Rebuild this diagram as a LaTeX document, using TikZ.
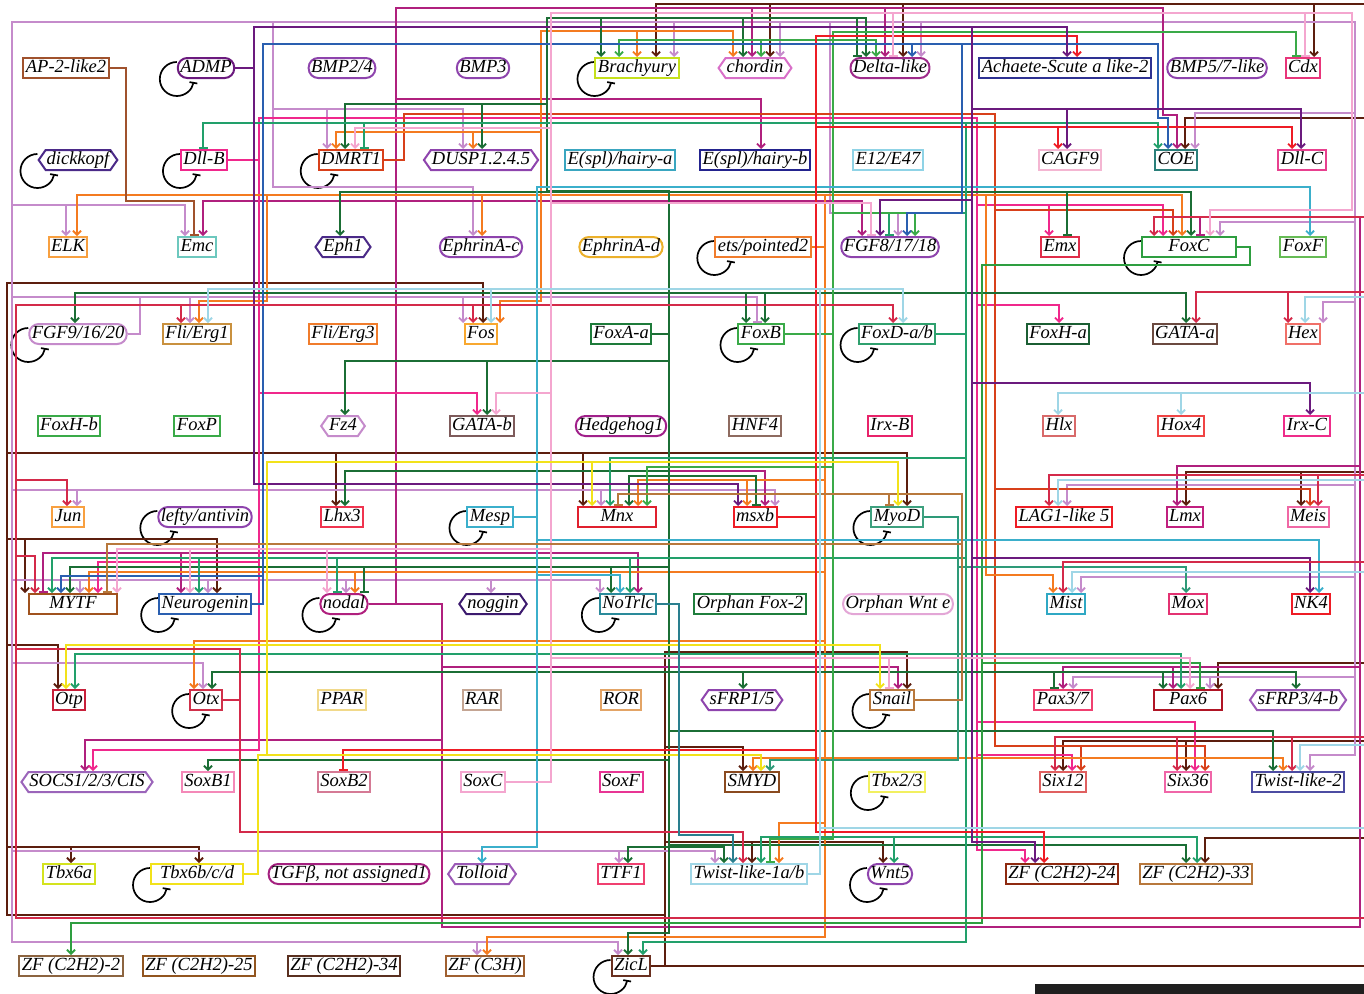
\documentclass[tikz,border=0pt]{standalone}
\usepackage{fontspec}
\setmainfont{Liberation Serif}
\usetikzlibrary{arrows.meta,shapes.symbols,calc}
\pgfdeclarelayer{bg}
\pgfsetlayers{bg,main}
\newcommand\dc[2]{\definecolor{#1}{HTML}{#2}}
% edge colours
\dc{zbr}{5C1E0E}\dc{lav}{C58BCB}\dc{mag}{B0207E}\dc{pk}{F0288C}\dc{dm}{D8401A}
\dc{orn}{F47B20}\dc{dg}{1B6E35}\dc{tg}{22A06B}\dc{gr}{3AAA48}\dc{fc}{2E9E40}
\dc{tm}{2E9A78}\dc{mb}{3BAFCB}\dc{rd}{EE1C25}\dc{bl}{2A5FB0}\dc{pp}{6B1A7E}
\dc{cr}{D42A4A}\dc{lp}{F4A6CF}\dc{tn}{B8783C}\dc{lb}{9FD6E6}\dc{yl}{F2E21A}
\dc{nt}{2A7F8F}\dc{sie}{A0522D}
% node colours
\dc{cpur}{8E44AD}\dc{cdpur}{4B2A88}\dc{cbra}{C5E01B}\dc{cchd}{D86FC8}\dc{cdll}{9E2A8A}
\dc{cash}{2E3192}\dc{ccdx}{E8357A}\dc{cehA}{3AA6C0}\dc{cehB}{23238E}\dc{ce12}{8FD3E6}
\dc{ccagf}{F4B6D2}\dc{ccoe}{2A7F7A}\dc{cdllc}{E8408F}\dc{celk}{F8A040}\dc{cemc}{6DC8BE}
\dc{cefnd}{EBB02B}\dc{cets}{F07C2C}\dc{cemx}{E02D4A}\dc{cfoxf}{66BB55}\dc{cfli1}{C9913F}
\dc{cfos}{F8A830}\dc{cfoxaa}{1E7B3A}\dc{cfoxd}{2FA06E}\dc{cfoxha}{1B5E33}\dc{cgataa}{6B4A40}
\dc{chex}{F07068}\dc{cgatab}{7E5B5B}\dc{chh}{A0208A}\dc{chnf}{8E6B60}\dc{cirxb}{E8236A}
\dc{chlx}{D86A6A}\dc{chox}{F04444}\dc{cirxc}{EE2D8A}\dc{clhx}{F0344F}\dc{cmnx}{E0202E}
\dc{cmyod}{3DA07E}\dc{clmx}{C0207F}\dc{cmeis}{F068A5}\dc{cmytf}{A0521E}\dc{cnog}{3C1A6E}
\dc{cnot}{2A8A9A}\dc{cofox}{1F7E3C}\dc{cown}{E3A6D6}\dc{cmist}{2FA8C4}\dc{cmox}{E33272}
\dc{cotp}{C8203A}\dc{cotx}{D0304A}\dc{cppar}{F1D98A}\dc{crar}{C4A593}\dc{cror}{E3A466}
\dc{cpax37}{F04070}\dc{cpax6}{B01525}\dc{csf34}{9B59B6}\dc{csocs}{9B65BA}\dc{csxb1}{F489B8}
\dc{csxb2}{D57A95}\dc{csxf}{E83594}\dc{csmyd}{8A4A1F}\dc{ctbx23}{F2F060}\dc{csix12}{E06060}
\dc{csix36}{F066A8}\dc{ctw2}{4C4CA2}\dc{ctbx6a}{D4E31E}\dc{ctgf}{A4207F}\dc{czf24}{8E2A10}
\dc{czf2}{8C6440}\dc{czf25}{92551F}\dc{czf34}{5A3020}\dc{czfc}{A06030}\dc{czicl}{6A3020}
\newcommand\nfnt{\fontsize{18.5}{19}\selectfont\itshape}
\newcommand\gedge[5]{\draw[#1] (#2.east) #3 -| (#4,0 |- #5.north);}
\newcommand\sloop[1]{\draw[sl] ($(#1.west)+(0,-6)$) arc[start angle=-90,end angle=-350,radius=17];}
\begin{document}
\begin{tikzpicture}[x=1pt,y=-1pt,
 lbl/.style={font=\nfnt, inner xsep=2.5pt, inner ysep=0pt, minimum height=20pt, line width=2pt, text height=13pt, text depth=3.5pt, fill=white},
 bx/.style={lbl, rectangle, draw=#1},
 st/.style={lbl, rectangle, rounded corners=9.5pt, draw=#1},
 hx/.style={lbl, signal, signal to=west and east, signal pointer angle=110, inner xsep=1pt, draw=#1},
 ea/.style={line width=1.8pt, -{Straight Barb[length=4pt,width=8pt]}},
 ei/.style={line width=1.8pt, -{Bar[width=9pt]}},
 sl/.style={black, line width=1.7pt, -{Bar[width=8pt]}}]
\useasboundingbox (0,0) rectangle (1364,993);
% ---------------- nodes
% row 1
\node[bx=sie] (ap) at (66,68) {AP-2-like2};
\node[st=pp] (admp) at (206,68) {ADMP};
\node[st=cpur] (bmp24) at (342,68) {BMP2/4};
\node[st=cpur] (bmp3) at (483,68) {BMP3};
\node[bx=cbra] (bra) at (637,68) {Brachyury};
\node[hx=cchd] (chd) at (755,68) {chordin};
\node[st=cdll] (dll) at (890,68) {Delta-like};
\node[bx=cash] (ash) at (1065,68) {Achaete-Scute a like-2};
\node[st=cpur] (bmp57) at (1217,68) {BMP5/7-like};
\node[bx=ccdx] (cdx) at (1303,68) {Cdx};
% row 2
\node[hx=cdpur] (dkk) at (78,160) {dickkopf};
\node[bx=pk] (dllb) at (204,160) {Dll-B};
\node[bx=dm] (dmrt) at (351,160) {DMRT1};
\node[hx=cpur] (dusp) at (481,160) {DUSP1.2.4.5};
\node[bx=cehA] (ehA) at (620,160) {E(spl)/hairy-a};
\node[bx=cehB] (ehB) at (755,160) {E(spl)/hairy-b};
\node[bx=ce12] (e12) at (888,160) {E12/E47};
\node[bx=ccagf] (cagf) at (1070,160) {CAGF9};
\node[bx=ccoe] (coe) at (1176,160) {COE};
\node[bx=cdllc] (dllc) at (1302,160) {Dll-C};
% row 3
\node[bx=celk] (elk) at (68,247) {ELK};
\node[bx=cemc] (emc) at (197,247) {Emc};
\node[hx=cdpur] (eph1) at (343,247) {Eph1};
\node[st=cpur] (efnc) at (481,247) {EphrinA-c};
\node[st=cefnd] (efnd) at (621,247) {EphrinA-d};
\node[bx=cets] (ets) at (763,247) {ets/pointed2};
\node[st=cpur] (fgf8) at (890,247) {FGF8/17/18};
\node[bx=cemx] (emx) at (1060,247) {Emx};
\node[bx=fc, minimum width=94pt] (foxc) at (1189,247) {FoxC};
\node[bx=cfoxf] (foxf) at (1303,247) {FoxF};
% row 4
\node[st=lav] (fgf9) at (78,334) {FGF9/16/20};
\node[bx=cfli1] (fli1) at (197,334) {Fli/Erg1};
\node[bx=cets] (fli3) at (343,334) {Fli/Erg3};
\node[bx=cfos] (fos) at (481,334) {Fos};
\node[bx=cfoxaa] (foxaa) at (621,334) {FoxA-a};
\node[bx=gr] (foxb) at (761,334) {FoxB};
\node[bx=cfoxd] (foxd) at (897,334) {FoxD-a/b};
\node[bx=cfoxha] (foxha) at (1058,334) {FoxH-a};
\node[bx=cgataa] (gataa) at (1185,334) {GATA-a};
\node[bx=chex] (hex) at (1303,334) {Hex};
% row 5
\node[bx=gr] (foxhb) at (69,426) {FoxH-b};
\node[bx=gr] (foxp) at (197,426) {FoxP};
\node[hx=lav] (fz4) at (343,426) {Fz4};
\node[bx=cgatab] (gatab) at (482,426) {GATA-b};
\node[st=chh] (hh) at (621,426) {Hedgehog1};
\node[bx=chnf] (hnf4) at (755,426) {HNF4};
\node[bx=cirxb] (irxb) at (890,426) {Irx-B};
\node[bx=chlx] (hlx) at (1059,426) {Hlx};
\node[bx=chox] (hox4) at (1181,426) {Hox4};
\node[bx=cirxc] (irxc) at (1307,426) {Irx-C};
% row 6
\node[bx=celk] (jun) at (68,517) {Jun};
\node[st=cpur] (lefty) at (205,517) {lefty/antivin};
\node[bx=clhx] (lhx3) at (342,517) {Lhx3};
\node[bx=mb] (mesp) at (490,517) {Mesp};
\node[bx=cmnx, minimum width=78pt] (mnx) at (617,517) {Mnx};
\node[bx=rd] (msxb) at (755,517) {msxb};
\node[bx=cmyod] (myod) at (897,517) {MyoD};
\node[bx=rd] (lag) at (1064,517) {LAG1-like 5};
\node[bx=clmx] (lmx) at (1185,517) {Lmx};
\node[bx=cmeis] (meis) at (1308,517) {Meis};
% row 7
\node[bx=cmytf, minimum width=88pt] (mytf) at (73,604) {MYTF};
\node[bx=bl] (ngn) at (205,604) {Neurogenin};
\node[st=mag] (nodal) at (344,604) {nodal};
\node[hx=cnog] (noggin) at (493,604) {noggin};
\node[bx=cnot] (notrlc) at (628,604) {NoTrlc};
\node[bx=cofox] (ofox2) at (750,604) {Orphan Fox-2};
\node[st=cown] (ownte) at (898,604) {Orphan Wnt e};
\node[bx=cmist] (mist) at (1066,604) {Mist};
\node[bx=cmox] (mox) at (1188,604) {Mox};
\node[bx=rd] (nk4) at (1311,604) {NK4};
% row 8
\node[bx=cotp] (otp) at (69,700) {Otp};
\node[bx=cotx] (otx) at (206,700) {Otx};
\node[bx=cppar] (ppar) at (342,700) {PPAR};
\node[bx=crar] (rar) at (482,700) {RAR};
\node[bx=cror] (ror) at (621,700) {ROR};
\node[hx=cpur] (sfrp15) at (742,700) {sFRP1/5};
\node[bx=tn] (snail) at (892,700) {Snail};
\node[bx=cpax37] (pax37) at (1063,700) {Pax3/7};
\node[bx=cpax6, minimum width=68pt] (pax6) at (1188,700) {Pax6};
\node[hx=csf34] (sfrp34) at (1298,700) {sFRP3/4-b};
% row 9
\node[hx=csocs] (socs) at (87,782) {SOCS1/2/3/CIS};
\node[bx=csxb1] (soxb1) at (208,782) {SoxB1};
\node[bx=csxb2] (soxb2) at (344,782) {SoxB2};
\node[bx=lp] (soxc) at (483,782) {SoxC};
\node[bx=csxf] (soxf) at (621,782) {SoxF};
\node[bx=csmyd] (smyd) at (752,782) {SMYD};
\node[bx=ctbx23] (tbx23) at (897,782) {Tbx2/3};
\node[bx=csix12] (six12) at (1063,782) {Six12};
\node[bx=csix36] (six36) at (1188,782) {Six36};
\node[bx=ctw2] (tw2) at (1298,782) {Twist-like-2};
% row 10
\node[bx=ctbx6a] (tbx6a) at (69,874) {Tbx6a};
\node[bx=yl, minimum width=92pt] (tbx6b) at (197,874) {Tbx6b/c/d};
\node[st=ctgf] (tgfb) at (349,874) {TGFβ, not assigned1};
\node[hx=csf34] (tolloid) at (482,874) {Tolloid};
\node[bx=cpax37] (ttf1) at (621,874) {TTF1};
\node[bx=lb] (tw1) at (749,874) {Twist-like-1a/b};
\node[st=cpur] (wnt5) at (890,874) {Wnt5};
\node[bx=czf24] (zf24) at (1062,874) {ZF (C2H2)-24};
\node[bx=tn] (zf33) at (1196,874) {ZF (C2H2)-33};
% row 11
\node[bx=czf2] (zf2) at (71,966) {ZF (C2H2)-2};
\node[bx=czf25] (zf25) at (199,966) {ZF (C2H2)-25};
\node[bx=czf34] (zf34) at (344,966) {ZF (C2H2)-34};
\node[bx=czfc] (zfc3h) at (485,966) {ZF (C3H)};
\node[bx=czicl] (zicl) at (631,966) {ZicL};
\fill[black!88] (1035,984) rectangle (1372,1000);
% ---------------- connectors
\begin{pgfonlayer}{bg}
\foreach \n in {admp,bra,dkk,dllb,dmrt,ets,foxc,fgf9,foxb,foxd,lefty,mesp,myod,ngn,nodal,notrlc,otx,snail,tbx23,tbx6b,wnt5,zicl}{\sloop{\n}}
% ZicL
\gedge{ea,zbr}{zicl}{-| (1372,4)}{656}{bra}
\gedge{ea,zbr}{zicl}{-| (1372,4)}{770}{chd}
\gedge{ea,zbr}{zicl}{-| (1372,4)}{903}{dll}
\gedge{ea,zbr}{zicl}{-| (1372,4)}{1314}{cdx}
\gedge{ea,zbr}{zicl}{-| (1372,118)}{1185}{coe}
\gedge{ea,zbr}{zicl}{-| (1372,472)}{1186}{lmx}
\gedge{ea,zbr}{zicl}{-| (1372,472)}{1301}{meis}
\gedge{ea,zbr}{zicl}{-| (1372,663)}{1218}{pax6}
\gedge{ea,zbr}{zicl}{-| (1372,741)}{1063}{six12}
\gedge{ea,zbr}{zicl}{-| (1372,741)}{1186}{six36}
\gedge{ea,zbr}{zicl}{-| (1372,838)}{1205}{zf33}
\gedge{ea,zbr}{zicl}{-| (665,747)}{743}{smyd}
\gedge{ea,zbr}{zicl}{-| (665,842)}{752}{tw1}
\gedge{ea,zbr}{zicl}{-| (665,842)}{883}{wnt5}
\gedge{ea,zbr}{zicl}{-| (665,652)}{907}{snail}
\gedge{ea,zbr}{zicl}{-| (665,915) -| (7,283)}{483}{fos}
\gedge{ea,zbr}{zicl}{-| (665,915) -| (7,453)}{336}{lhx3}
\gedge{ea,zbr}{zicl}{-| (665,915) -| (7,453)}{583}{mnx}
\gedge{ea,zbr}{zicl}{-| (665,915) -| (7,453)}{907}{myod}
\gedge{ea,zbr}{zicl}{-| (665,915) -| (7,539)}{25}{mytf}
\gedge{ea,zbr}{zicl}{-| (665,915) -| (7,539)}{217}{ngn}
\gedge{ea,zbr}{zicl}{-| (665,915) -| (7,645)}{58}{otp}
\gedge{ea,zbr}{zicl}{-| (665,915) -| (7,847)}{71}{tbx6a}
\gedge{ea,zbr}{zicl}{-| (665,915) -| (7,847)}{199}{tbx6b}
% FGF9/16/20
\gedge{ea,lav}{fgf9}{-| (140,297)}{190}{fli1}
\gedge{ea,lav}{fgf9}{-| (140,297)}{463}{fos}
\gedge{ei,lav}{fgf9}{-| (140,297)}{757}{foxb}
\gedge{ea,lav}{fgf9}{-| (140,297) -| (12,22)}{674}{bra}
\gedge{ea,lav}{fgf9}{-| (140,297) -| (12,22)}{780}{chd}
\gedge{ea,lav}{fgf9}{-| (140,297) -| (12,22)}{921}{dll}
\gedge{ea,lav}{fgf9}{-| (140,297) -| (12,22) -| (1355,113)}{1195}{coe}
\gedge{ea,lav}{fgf9}{-| (140,297) -| (12,22) -| (1355,222)}{1220}{foxc}
\gedge{ea,lav}{fgf9}{-| (140,297) -| (12,22) -| (1355,302)}{1323}{hex}
\gedge{ea,lav}{fgf9}{-| (140,297) -| (12,22) -| (1355,485)}{1067}{lag}
\gedge{ea,lav}{fgf9}{-| (140,297) -| (12,22) -| (1355,577)}{1081}{mist}
\gedge{ea,lav}{fgf9}{-| (140,297) -| (12,22) -| (1355,677)}{1073}{pax37}
\gedge{ea,lav}{fgf9}{-| (140,297) -| (12,22) -| (1355,677)}{1210}{pax6}
\gedge{ea,lav}{fgf9}{-| (140,297) -| (12,22) -| (1355,755)}{1310}{tw2}
\gedge{ea,lav}{fgf9}{-| (140,297) -| (12,22) -| (273,109)}{327}{dmrt}
\gedge{ea,lav}{fgf9}{-| (140,297) -| (12,22) -| (273,109)}{463}{dusp}
\gedge{ea,lav}{fgf9}{-| (140,297) -| (12,22) -| (273,187)}{473}{efnc}
\gedge{ea,lav}{fgf9}{-| (140,297) -| (12,22) -| (830,213)}{898}{fgf8}
\gedge{ea,lav}{fgf9}{-| (140,297) -| (12,205)}{66}{elk}
\gedge{ea,lav}{fgf9}{-| (140,297) -| (12,205)}{185}{emc}
\gedge{ea,lav}{fgf9}{-| (140,297) -| (12,490)}{77}{jun}
\gedge{ea,lav}{fgf9}{-| (140,297) -| (12,490)}{601}{mnx}
\gedge{ea,lav}{fgf9}{-| (140,297) -| (12,490)}{775}{msxb}
\gedge{ea,lav}{fgf9}{-| (140,297) -| (12,580)}{80}{mytf}
\gedge{ea,lav}{fgf9}{-| (140,297) -| (12,580)}{208}{ngn}
\gedge{ea,lav}{fgf9}{-| (140,297) -| (12,580)}{346}{nodal}
\gedge{ea,lav}{fgf9}{-| (140,297) -| (12,580)}{491}{noggin}
\gedge{ea,lav}{fgf9}{-| (140,297) -| (12,580)}{600}{notrlc}
\gedge{ea,lav}{fgf9}{-| (140,297) -| (12,663)}{203}{otx}
\gedge{ea,lav}{fgf9}{-| (140,297) -| (12,851)}{619}{ttf1}
\gedge{ea,lav}{fgf9}{-| (140,297) -| (12,851)}{715}{tw1}
\gedge{ea,lav}{fgf9}{-| (140,297) -| (12,942)}{477}{zfc3h}
\gedge{ea,lav}{fgf9}{-| (140,297) -| (12,942)}{618}{zicl}
% nodal
\gedge{ea,mag}{nodal}{-| (396,8)}{752}{chd}
\gedge{ea,mag}{nodal}{-| (396,8)}{885}{dll}
\gedge{ea,mag}{nodal}{-| (396,8) -| (1163,115)}{1177}{coe}
\gedge{ea,mag}{nodal}{-| (396,99)}{761}{ehB}
\gedge{ea,mag}{nodal}{-| (396,201)}{203}{emc}
\gedge{ea,mag}{nodal}{-| (396,201)}{862}{fgf8}
\gedge{ea,mag}{nodal}{-| (396,471)}{765}{msxb}
\gedge{ei,mag}{nodal}{-| (396,553)}{43}{mytf}
\gedge{ea,mag}{nodal}{-| (396,553)}{181}{ngn}
\gedge{ea,mag}{nodal}{-| (396,553)}{638}{notrlc}
\gedge{ea,mag}{nodal}{-| (442,740)}{85}{socs}
\gedge{ea,mag}{nodal}{-| (442,667)}{898}{snail}
\gedge{ei,mag}{nodal}{-| (442,927) -| (1360,217)}{1200}{foxc}
\gedge{ea,mag}{nodal}{-| (442,927) -| (1360,466)}{1177}{lmx}
\gedge{ea,mag}{nodal}{-| (442,927) -| (1360,667)}{1063}{pax37}
\gedge{ea,mag}{nodal}{-| (442,927) -| (1360,667)}{1173}{pax6}
% Dll-B
\gedge{ea,pk}{dllb}{-| (259,393)}{477}{gatab}
\gedge{ea,pk}{dllb}{-| (259,562)}{98}{mytf}
\gedge{ea,pk}{dllb}{-| (259,750)}{93}{socs}
\gedge{ea,pk}{dllb}{-| (259,118) -| (977,205)}{1049}{emx}
\gedge{ea,pk}{dllb}{-| (259,118) -| (977,205)}{1163}{foxc}
\gedge{ea,pk}{dllb}{-| (259,118) -| (977,305)}{1059}{foxha}
\gedge{ea,pk}{dllb}{-| (259,118) -| (977,722)}{1195}{six36}
\gedge{ea,pk}{dllb}{-| (259,118) -| (977,755)}{1072}{six12}
\gedge{ea,pk}{dllb}{-| (259,118) -| (977,850)}{1025}{zf24}
% DMRT1
\gedge{ea,dm}{dmrt}{-| (404,114) -| (995,210)}{1173}{foxc}
\gedge{ea,dm}{dmrt}{-| (404,114) -| (995,489)}{1310}{meis}
\gedge{ea,dm}{dmrt}{-| (404,114) -| (995,746)}{1081}{six12}
\gedge{ea,dm}{dmrt}{-| (404,114) -| (995,746)}{1205}{six36}
% ets/pointed2
\gedge{ea,orn}{ets}{-| (825,195)}{77}{elk}
\gedge{ea,orn}{ets}{-| (825,195)}{482}{efnc}
\gedge{ea,orn}{ets}{-| (825,195)}{1182}{foxc}
\gedge{ea,orn}{ets}{-| (825,195) -| (541,31)}{637}{bra}
\gedge{ea,orn}{ets}{-| (825,195) -| (541,31)}{733}{chd}
\gedge{ea,orn}{ets}{-| (825,195) -| (541,132)}{336}{dmrt}
\gedge{ea,orn}{ets}{-| (825,195) -| (541,132)}{473}{dusp}
\gedge{ea,orn}{ets}{-| (825,195) -| (541,301)}{500}{fos}
\gedge{ea,orn}{ets}{-| (825,195) -| (267,301)}{199}{fli1}
\gedge{ea,orn}{ets}{-| (825,195) -| (986,575)}{1053}{mist}
\gedge{ea,orn}{ets}{-| (825,480)}{638}{mnx}
\gedge{ea,orn}{ets}{-| (825,480)}{747}{msxb}
\gedge{ea,orn}{ets}{-| (825,572)}{89}{mytf}
\gedge{ea,orn}{ets}{-| (825,572)}{355}{nodal}
\gedge{ea,orn}{ets}{-| (825,641)}{194}{otx}
\gedge{ea,orn}{ets}{-| (825,758)}{753}{smyd}
\gedge{ea,orn}{ets}{-| (825,758)}{1283}{tw2}
\gedge{ea,orn}{ets}{-| (825,823)}{779}{tw1}
\gedge{ea,orn}{ets}{-| (825,937)}{487}{zfc3h}
% FoxA-a
\gedge{ea,dg}{foxaa}{-| (669,191) -| (547,18)}{601}{bra}
\gedge{ea,dg}{foxaa}{-| (669,191) -| (547,18)}{743}{chd}
\gedge{ei,dg}{foxaa}{-| (669,191) -| (547,18)}{857}{dll}
\gedge{ea,dg}{foxaa}{-| (669,191) -| (547,18)}{866}{dll}
\gedge{ea,dg}{foxaa}{-| (669,191) -| (547,104)}{345}{dmrt}
\gedge{ea,dg}{foxaa}{-| (669,191) -| (547,104)}{482}{dusp}
\gedge{ea,dg}{foxaa}{-| (669,192)}{340}{eph1}
\gedge{ea,dg}{foxaa}{-| (669,192)}{1191}{foxc}
\gedge{ei,dg}{foxaa}{-| (669,192)}{1067}{emx}
\gedge{ea,dg}{foxaa}{-| (669,293)}{75}{fgf9}
\gedge{ea,dg}{foxaa}{-| (669,293)}{746}{foxb}
\gedge{ea,dg}{foxaa}{-| (669,293)}{765}{foxb}
\gedge{ea,dg}{foxaa}{-| (669,293)}{1186}{gataa}
\gedge{ea,dg}{foxaa}{-| (669,361)}{345}{fz4}
\gedge{ea,dg}{foxaa}{-| (669,361)}{487}{gatab}
\gedge{ea,dg}{foxaa}{-| (669,471)}{345}{lhx3}
\gedge{ea,dg}{foxaa}{-| (669,476)}{629}{mnx}
\gedge{ei,dg}{foxaa}{-| (669,476)}{756}{msxb}
\gedge{ea,dg}{foxaa}{-| (669,567)}{70}{mytf}
\gedge{ei,dg}{foxaa}{-| (669,567)}{364}{nodal}
\gedge{ea,dg}{foxaa}{-| (669,567)}{611}{notrlc}
\gedge{ea,dg}{foxaa}{-| (669,672)}{212}{otx}
\gedge{ea,dg}{foxaa}{-| (669,672)}{743}{sfrp15}
\gedge{ei,dg}{foxaa}{-| (669,672)}{1054}{pax37}
\gedge{ea,dg}{foxaa}{-| (669,672)}{1163}{pax6}
\gedge{ea,dg}{foxaa}{-| (669,672)}{1296}{sfrp34}
\gedge{ea,dg}{foxaa}{-| (669,731)}{1273}{tw2}
\gedge{ea,dg}{foxaa}{-| (669,760)}{208}{soxb1}
\gedge{ea,dg}{foxaa}{-| (669,847)}{628}{ttf1}
\gedge{ea,dg}{foxaa}{-| (669,847)}{724}{tw1}
\gedge{ea,dg}{foxaa}{-| (669,845)}{1186}{zf33}
\gedge{ea,dg}{foxaa}{-| (669,933)}{628}{zicl}
% FoxD-a/b
\gedge{ei,tg}{foxd}{-| (966,123)}{203}{dllb}
\gedge{ei,tg}{foxd}{-| (966,123)}{364}{dmrt}
\gedge{ea,tg}{foxd}{-| (966,123)}{1158}{coe}
\gedge{ei,tg}{foxd}{-| (966,213)}{889}{fgf8}
\gedge{ea,tg}{foxd}{-| (966,458)}{610}{mnx}
\gedge{ea,tg}{foxd}{-| (966,558)}{52}{mytf}
\gedge{ea,tg}{foxd}{-| (966,558)}{199}{ngn}
\gedge{ei,tg}{foxd}{-| (966,558)}{337}{nodal}
\gedge{ea,tg}{foxd}{-| (966,558)}{630}{notrlc}
\gedge{ea,tg}{foxd}{-| (966,654)}{75}{otp}
\gedge{ea,tg}{foxd}{-| (966,654)}{1181}{pax6}
\gedge{ea,tg}{foxd}{-| (966,837)}{761}{tw1}
\gedge{ea,tg}{foxd}{-| (966,837)}{894}{wnt5}
\gedge{ea,tg}{foxd}{-| (966,837)}{1197}{zf33}
\gedge{ea,tg}{foxd}{-| (966,942)}{643}{zicl}
% FoxB
\gedge{ea,gr}{foxb}{-| (833,40)}{619}{bra}
\gedge{ea,gr}{foxb}{-| (833,40)}{761}{chd}
\gedge{ea,gr}{foxb}{-| (833,40)}{876}{dll}
\gedge{ei,gr}{foxb}{-| (833,32)}{1296}{cdx}
\gedge{ea,gr}{foxb}{-| (833,213)}{915}{fgf8}
\gedge{ea,gr}{foxb}{-| (833,467)}{647}{mnx}
\gedge{ei,gr}{foxb}{-| (833,839)}{770}{tw1}
% FoxC
\gedge{ea,fc}{foxc}{-| (1250,265) -| (982,923)}{71}{zf2}
\gedge{ei,fc}{foxc}{-| (1250,265) -| (982,663)}{1200}{pax6}
% MyoD
\gedge{ea,tm}{myod}{-| (958,567)}{1186}{mox}
\gedge{ea,tm}{myod}{-| (958,760)}{770}{smyd}
% Mesp
\gedge{ea,mb}{mesp}{-| (537,187)}{1310}{foxf}
\gedge{ea,mb}{mesp}{-| (537,540)}{1319}{nk4}
\gedge{ea,mb}{mesp}{-| (537,575)}{620}{notrlc}
\gedge{ea,mb}{mesp}{-| (537,847)}{482}{tolloid}
% msxb
\gedge{ea,rd}{msxb}{-| (816,36)}{1077}{ash}
\gedge{ea,rd}{msxb}{-| (816,127)}{1058}{cagf}
\gedge{ea,rd}{msxb}{-| (816,127)}{1292}{dllc}
\gedge{ei,rd}{msxb}{-| (816,750)}{343}{soxb2}
\gedge{ea,rd}{msxb}{-| (816,832)}{1044}{zf24}
% Neurogenin
\gedge{ea,bl}{ngn}{-| (263,44)}{912}{dll}
\gedge{ea,bl}{ngn}{-| (263,44) -| (1158,118)}{1168}{coe}
\gedge{ea,bl}{ngn}{-| (263,44) -| (962,213)}{907}{fgf8}
\gedge{ea,bl}{ngn}{-| (263,576)}{61}{mytf}
% ADMP
\gedge{ea,pp}{admp}{-| (254,27)}{1067}{ash}
\gedge{ea,pp}{admp}{-| (254,27) -| (972,200)}{880}{fgf8}
\gedge{ea,pp}{admp}{-| (254,27) -| (972,109)}{1067}{cagf}
\gedge{ea,pp}{admp}{-| (254,27) -| (972,109)}{1301}{dllc}
\gedge{ea,pp}{admp}{-| (254,27) -| (972,383)}{1310}{irxc}
\gedge{ea,pp}{admp}{-| (254,27) -| (972,558)}{1310}{nk4}
\gedge{ea,pp}{admp}{-| (254,27) -| (972,842)}{1035}{zf24}
\gedge{ea,pp}{admp}{-| (254,484)}{738}{msxb}
% Otx
\gedge{ea,cr}{otx}{-| (240,649) -| (16,305)}{181}{fli1}
\gedge{ea,cr}{otx}{-| (240,649) -| (16,305)}{473}{fos}
\gedge{ea,cr}{otx}{-| (240,649) -| (16,305)}{893}{foxd}
\gedge{ea,cr}{otx}{-| (240,649) -| (16,480)}{67}{jun}
\gedge{ea,cr}{otx}{-| (240,649) -| (16,556)}{35}{mytf}
\gedge{ea,cr}{otx}{-| (240,832)}{743}{tw1}
\gedge{ea,cr}{otx}{-| (240,649) -| (16,918) -| (1368,217)}{1154}{foxc}
\gedge{ea,cr}{otx}{-| (240,649) -| (16,918) -| (1368,292)}{1196}{gataa}
\gedge{ea,cr}{otx}{-| (240,649) -| (16,918) -| (1368,292)}{1288}{hex}
\gedge{ea,cr}{otx}{-| (240,649) -| (16,918) -| (1368,475)}{1049}{lag}
\gedge{ea,cr}{otx}{-| (240,649) -| (16,918) -| (1368,475)}{1318}{meis}
\gedge{ea,cr}{otx}{-| (240,649) -| (16,918) -| (1368,562)}{1063}{mist}
\gedge{ea,cr}{otx}{-| (240,649) -| (16,918) -| (1368,737)}{1055}{six12}
\gedge{ea,cr}{otx}{-| (240,649) -| (16,918) -| (1368,737)}{1177}{six36}
\gedge{ea,cr}{otx}{-| (240,649) -| (16,918) -| (1368,737)}{1292}{tw2}
% SoxC
\gedge{ei,lp}{soxc}{-| (551,13)}{893}{dll}
\gedge{ei,lp}{soxc}{-| (551,13)}{1305}{cdx}
\gedge{ea,lp}{soxc}{-| (551,13) -| (1352,210)}{1210}{foxc}
\gedge{ea,lp}{soxc}{-| (551,128)}{355}{dmrt}
\gedge{ei,lp}{soxc}{-| (551,203)}{871}{fgf8}
\gedge{ea,lp}{soxc}{-| (551,393)}{496}{gatab}
\gedge{ea,lp}{soxc}{-| (551,549)}{117}{mytf}
\gedge{ea,lp}{soxc}{-| (551,549)}{190}{ngn}
\gedge{ea,lp}{soxc}{-| (551,549)}{327}{nodal}
\gedge{ei,lp}{soxc}{-| (551,658)}{889}{snail}
\gedge{ea,lp}{soxc}{-| (551,658)}{1190}{pax6}
% Snail
\gedge{ei,tn}{snail}{-| (962,494)}{618}{mnx}
\gedge{ei,tn}{snail}{-| (962,494)}{889}{myod}
\gedge{ei,tn}{snail}{-| (962,544)}{107}{mytf}
% Twist-like-1a/b
\gedge{ea,lb}{tw1}{-| (820,289)}{208}{fli1}
\gedge{ea,lb}{tw1}{-| (820,289)}{491}{fos}
\gedge{ea,lb}{tw1}{-| (820,289)}{903}{foxd}
\gedge{ea,lb}{tw1}{-| (820,828) -| (1374,297)}{1305}{hex}
\gedge{ea,lb}{tw1}{-| (820,828) -| (1374,393)}{1058}{hlx}
\gedge{ea,lb}{tw1}{-| (820,828) -| (1374,393)}{1181}{hox4}
\gedge{ea,lb}{tw1}{-| (820,828) -| (1374,480)}{1058}{lag}
\gedge{ea,lb}{tw1}{-| (820,828) -| (1374,572)}{1072}{mist}
\gedge{ea,lb}{tw1}{-| (820,828) -| (1374,745)}{1300}{tw2}
% Tbx6b/c/d
\gedge{ea,yl}{tbx6b}{-| (258,755) -| (267,462)}{592}{mnx}
\gedge{ea,yl}{tbx6b}{-| (258,755) -| (267,462)}{898}{myod}
\gedge{ea,yl}{tbx6b}{-| (258,755) -| (267,645)}{66}{otp}
\gedge{ea,yl}{tbx6b}{-| (258,755) -| (267,645)}{880}{snail}
\gedge{ea,yl}{tbx6b}{-| (258,755)}{761}{smyd}
% NoTrlc
\gedge{ea,nt}{notrlc}{-| (679,835)}{733}{tw1}
% AP-2-like2
\gedge{ei,sie}{ap}{-| (126,201)}{194}{emc}
\end{pgfonlayer}
\end{tikzpicture}
\end{document}
